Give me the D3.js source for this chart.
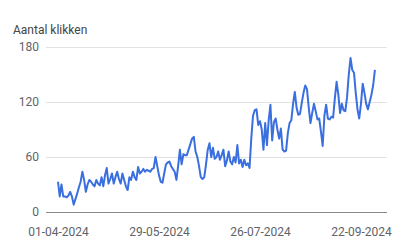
<!DOCTYPE html>
<html><head><meta charset="utf-8">
<script src="https://cdn.jsdelivr.net/npm/d3@7"></script>
<style>
html,body{margin:0;padding:0;background:#fff;}
svg{display:block;font-family:Roboto,"Noto Sans",sans-serif;}
</style></head>
<body>
<svg id="chart" width="420" height="252"></svg>
<script>
const yTitle = "Aantal klikken";
const startDate = "01-04-2024";
const endDate = "30-09-2024";
const xTickLabels = ["01-04-2024","29-05-2024","26-07-2024","22-09-2024"];
const yTicks = [0, 60, 120, 180];
// daily clicks, 01-04-2024 .. 30-09-2024
const clicksApr = [33,17,30,17,17,16,18,22,17,8,14,20,27,33,44,35,22,30,35,33,30,28,35,31,29,38,28,40,48,31];
const clicksMay = [36,42,31,38,44,36,31,42,35,28,24,38,35,44,38,35,49,42,44,47,44,46,45,44,47,48,60,50,40,33,32];
const clicksJun = [42,52,54,55,50,47,44,35,50,68,52,63,62,62,68,74,80,82,66,60,50,38,36,38,52,68,75,60,70,58];
const clicksJul = [60,66,57,62,68,50,56,66,55,52,60,54,73,53,57,49,57,51,53,48,80,105,111,112,95,99,90,68,97,73,100];
const clicksAug = [117,78,98,102,90,80,91,68,66,67,86,97,100,118,131,114,106,107,119,130,138,134,114,97,108,118,110,101,102,88,72];
const clicksSep = [105,117,102,101,104,103,124,142,128,108,118,111,110,125,150,168,155,152,130,112,102,118,140,130,118,112,120,128,138,155];
const clicks = [].concat(clicksApr, clicksMay, clicksJun, clicksJul, clicksAug, clicksSep);

const parse = d3.timeParse("%d-%m-%Y");
const fmt = d3.timeFormat("%d-%m-%Y");
const d0 = parse(startDate);
const data = clicks.map((v, i) => ({date: d3.timeDay.offset(d0, i), value: v}));

const svg = d3.select("#chart");
const x = d3.scaleTime().domain([d0, parse(endDate)]).range([58, 374.9]);
const y = d3.scaleLinear().domain([0, 180]).range([212, 47]);
const textColor = "#5f6368";

// gridlines
svg.append("g").selectAll("line").data(yTicks.filter(t => t > 0)).join("line")
  .attr("x1", 46).attr("x2", 387)
  .attr("y1", d => y(d)).attr("y2", d => y(d))
  .attr("stroke", "#e2e2e2").attr("stroke-width", 1).attr("shape-rendering", "crispEdges");

// y labels
svg.append("g").selectAll("text").data(yTicks).join("text")
  .attr("x", 39).attr("y", d => y(d)).attr("dy", "0.35em")
  .attr("text-anchor", "end").attr("font-size", 12).attr("fill", textColor)
  .text(d => d);

// baseline
svg.append("line").attr("x1", 46).attr("x2", 387).attr("y1", y(0)).attr("y2", y(0))
  .attr("stroke", "#8a8a8a").attr("stroke-width", 1).attr("shape-rendering", "crispEdges");

// x axis labels
const xAxis = d3.axisBottom(x).tickValues(xTickLabels.map(parse)).tickFormat(fmt).tickSize(0).tickPadding(0);
const gx = svg.append("g").attr("transform", "translate(0,227)").call(xAxis);
gx.select(".domain").remove();
gx.selectAll("text").attr("font-size", 12).attr("fill", textColor).attr("font-family", "Roboto, sans-serif").attr("dy", "0.71em");

// title
svg.append("text").attr("x", 13).attr("y", 34).attr("font-size", 12).attr("fill", "#444")
  .text(yTitle);

// line
const line = d3.line().x(d => x(d.date)).y(d => y(d.value));
svg.append("path").datum(data).attr("d", line)
  .attr("fill", "none").attr("stroke", "#3a6fe0").attr("stroke-width", 2)
  .attr("stroke-linejoin", "round");
</script>
</body></html>
